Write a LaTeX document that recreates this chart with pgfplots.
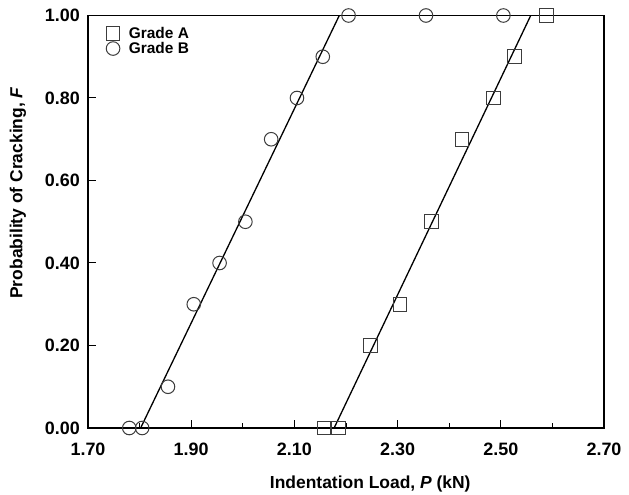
\documentclass[border=0pt]{standalone}
\usepackage{fontspec}
\setmainfont{Liberation Sans}
\usepackage{pgfplots}
\pgfplotsset{compat=1.18}
\definecolor{markgray}{RGB}{60,60,60}
\begin{document}
\begin{tikzpicture}
\begin{axis}[
  scale only axis, width=516bp, height=412.5bp,
  xmin=1.7, xmax=2.7, ymin=0, ymax=1,
  xtick={1.7,1.9,2.1,2.3,2.5,2.7},
  minor xtick={1.8,2.0,2.2,2.4,2.6},
  ytick={0,0.2,0.4,0.6,0.8,1.0},
  xtick pos=bottom, ytick pos=left, tick align=inside,
  major tick length=8bp, minor tick length=5.5bp,
  axis line style={line width=1.4bp},
  every tick/.style={black, line width=1bp},
  clip=false,
  /pgf/number format/.cd, fixed, fixed zerofill, precision=2, assume math mode=true,
  /pgfplots/.cd,
  tick label style={font=\bfseries\fontsize{18}{21}\selectfont},
  xticklabel style={anchor=north, inner sep=0pt, yshift=-15bp},
  yticklabel style={anchor=east, inner sep=0pt, xshift=-8bp},
  xlabel={Indentation Load, \textit{P} (kN)},
  ylabel={Probability of Cracking, \textit{F}},
  label style={font=\bfseries\fontsize{17.5}{20}\selectfont},
  xlabel style={at={(axis description cs:0.547,0)}, anchor=center, yshift=-55.5bp},
  ylabel style={at={(axis description cs:-0.1357,0.57)}, anchor=center},
  legend style={at={(axis description cs:0.035,0.975)}, anchor=north west,
    draw=none, fill=none, font=\bfseries\fontsize{15.5}{17}\selectfont,
    inner sep=0pt, row sep=0.5bp, column sep=8bp, nodes={inner sep=1bp}},
  legend cell align=left,
  legend image code/.code={\draw[#1] plot coordinates {(0bp,0bp)};},
]
\addlegendimage{only marks, mark=square, mark size=6.8bp, mark options={draw=markgray, line width=1bp}}
\addlegendentry{Grade A}
\addlegendimage{only marks, mark=o, mark size=6.8bp, mark options={draw=markgray, line width=1bp}}
\addlegendentry{Grade B}
% fitted lines
\addplot[black, line width=1.3bp, forget plot] coordinates {(1.802,0) (2.187,1)};
\addplot[black, line width=1.3bp, forget plot] coordinates {(2.177,0) (2.558,1)};
% Grade A
\addplot[only marks, mark=square, mark size=6.8bp, mark options={draw=markgray, line width=1bp}, forget plot] coordinates {
(2.157,0) (2.185,0) (2.247,0.2) (2.305,0.3) (2.366,0.5) (2.425,0.7) (2.486,0.8) (2.527,0.9) (2.588,1.0)};
% Grade B
\addplot[only marks, mark=o, mark size=6.8bp, mark options={draw=markgray, line width=1bp}, forget plot] coordinates {
(1.780,0) (1.805,0) (1.855,0.1) (1.905,0.3) (1.955,0.4) (2.005,0.5) (2.055,0.7) (2.105,0.8) (2.155,0.9) (2.205,1.0) (2.355,1.0) (2.505,1.0)};
\end{axis}
\pgfresetboundingbox
\path (-88bp,-67bp) rectangle (541bp,428bp);
\end{tikzpicture}
\end{document}
